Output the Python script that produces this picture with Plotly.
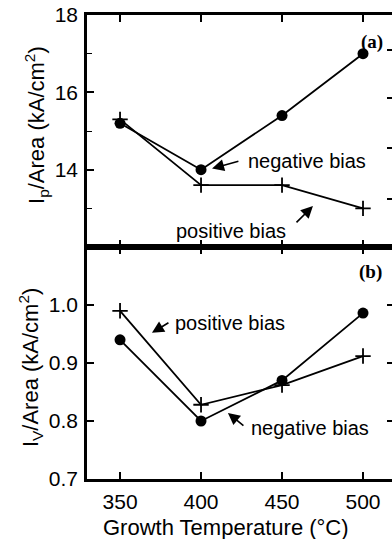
import plotly.graph_objects as go

temps = [350, 400, 450, 500]
peak_negative = [15.2, 14.0, 15.4, 17.0]
peak_positive = [15.3, 13.6, 13.6, 13.0]
valley_negative = [0.94, 0.80, 0.87, 0.986]
valley_positive = [0.99, 0.828, 0.862, 0.912]

x_ticks = [350, 400, 450, 500]
ya_ticks = [14, 16, 18]
ya_minor = [13, 15, 17]
yb_ticks = [0.7, 0.8, 0.9, 1.0]
yb_ticktext = ["0.7", "0.8", "0.9", "1.0"]
ya_right_ticks = [17.1, 15.85, 14.55, 13.25]
yb_right_ticks = [0.8, 0.9, 1.0]

FONT = "Liberation Sans, Arial, sans-serif"
SERIF = "Liberation Serif, Times New Roman, serif"

fig = go.Figure()

line = dict(color="black", width=1.8)
circ = dict(symbol="circle", size=11, color="black")
plus = dict(symbol="cross-thin", size=11, color="black", line=dict(color="black", width=1.8))

fig.add_trace(go.Scatter(x=temps, y=peak_negative, mode="lines+markers", line=line, marker=circ, xaxis="x", yaxis="y"))
fig.add_trace(go.Scatter(x=temps, y=peak_positive, mode="lines+markers", line=line, marker=plus, xaxis="x", yaxis="y"))
fig.add_trace(go.Scatter(x=temps, y=valley_negative, mode="lines+markers", line=line, marker=circ, xaxis="x2", yaxis="y2"))
fig.add_trace(go.Scatter(x=temps, y=valley_positive, mode="lines+markers", line=line, marker=plus, xaxis="x2", yaxis="y2"))
# invisible traces for right-side tick axes
fig.add_trace(go.Scatter(x=[temps[0]], y=[peak_negative[0]], mode="markers", marker=dict(opacity=0), xaxis="x", yaxis="y3", hoverinfo="skip"))
fig.add_trace(go.Scatter(x=[temps[0]], y=[valley_negative[0]], mode="markers", marker=dict(opacity=0), xaxis="x2", yaxis="y4", hoverinfo="skip"))

xr = [329.6, 517.9]
tickfont = dict(family=FONT, size=21, color="black")

ax_common = dict(range=xr, tickvals=x_ticks, ticks="inside", ticklen=7, tickwidth=1.8,
                 showline=True, linewidth=2.5, linecolor="black", showgrid=False, zeroline=False,
                 tickcolor="black", mirror="ticks", tickfont=tickfont, automargin=False)

fig.update_layout(
    width=392, height=539,
    margin=dict(l=87, r=0, t=15, b=60, autoexpand=False),
    paper_bgcolor="white", plot_bgcolor="white",
    showlegend=False,
    font=dict(family=FONT, color="black"),
    xaxis=dict(**ax_common, domain=[0, 1], anchor="y", showticklabels=False),
    xaxis2=dict(**ax_common, domain=[0, 1], anchor="y2", showticklabels=True, ticklabelstandoff=2),
    yaxis=dict(domain=[0.5, 1], anchor="x", range=[12, 18], tickvals=ya_ticks,
               ticks="inside", ticklen=7, tickwidth=1.8, tickcolor="black",
               minor=dict(tickvals=ya_minor, ticks="inside", ticklen=5, tickwidth=1.2, tickcolor="black"),
               showline=True, linewidth=2.5, linecolor="black", showgrid=False, zeroline=False,
               tickfont=tickfont, automargin=False, ticklabelstandoff=2),
    yaxis2=dict(domain=[0, 0.5], anchor="x2", range=[0.7, 1.1], tickvals=yb_ticks,
                ticktext=yb_ticktext,
                ticks="inside", ticklen=7, tickwidth=1.8, tickcolor="black",
                showline=True, linewidth=2.5, linecolor="black", showgrid=False, zeroline=False,
                tickfont=tickfont, automargin=False, ticklabelstandoff=2),
    yaxis3=dict(overlaying="y", side="right", anchor="x", range=[12, 18], tickvals=ya_right_ticks,
                ticks="inside", ticklen=5, tickwidth=1.8, tickcolor="black", showticklabels=False,
                showline=False, showgrid=False, zeroline=False, automargin=False),
    yaxis4=dict(overlaying="y2", side="right", anchor="x2", range=[0.7, 1.1], tickvals=yb_right_ticks,
                ticks="inside", ticklen=5, tickwidth=1.8, tickcolor="black", showticklabels=False,
                showline=False, showgrid=False, zeroline=False, automargin=False),
)

ann = []
# axis titles
ann.append(dict(text="Growth Temperature (°C)", xref="paper", yref="paper", x=0.455, y=0,
                yshift=-48, xanchor="center", yanchor="middle", showarrow=False,
                font=dict(family=FONT, size=22, color="black")))
ann.append(dict(text="I<sub>p</sub>/Area (kA/cm<sup>2</sup>)", xref="paper", yref="paper", x=0, y=0.763,
                xshift=-50, textangle=-90, xanchor="center", yanchor="middle", showarrow=False,
                font=dict(family=FONT, size=22, color="black")))
ann.append(dict(text="I<sub>V</sub>/Area (kA/cm<sup>2</sup>)", xref="paper", yref="paper", x=0, y=0.239,
                xshift=-57, textangle=-90, xanchor="center", yanchor="middle", showarrow=False,
                font=dict(family=FONT, size=22, color="black")))
# panel labels
ann.append(dict(text="<b>(a)</b>", xref="x", yref="y", x=505.5, y=17.3, showarrow=False,
                font=dict(family=SERIF, size=19, color="black")))
ann.append(dict(text="<b>(b)</b>", xref="x2", yref="y2", x=504.5, y=1.057, showarrow=False,
                font=dict(family=SERIF, size=19, color="black")))
# labels
lab = dict(family=FONT, size=20, color="black")
ann.append(dict(text="negative bias", xref="x", yref="y", x=465.4, y=14.23, showarrow=False, font=lab))
ann.append(dict(text="positive bias", xref="x", yref="y", x=418.5, y=12.42, showarrow=False, font=lab))
ann.append(dict(text="positive bias", xref="x2", yref="y2", x=418.0, y=0.969, showarrow=False, font=lab))
ann.append(dict(text="negative bias", xref="x2", yref="y2", x=467.2, y=0.788, showarrow=False, font=lab))
# arrows
arr = dict(text="", showarrow=True, arrowhead=2, arrowsize=1.5, arrowwidth=1.6, arrowcolor="black",
           standoff=0, startstandoff=0)
ann.append(dict(**arr, xref="x", yref="y", axref="x", ayref="y", x=406.8, y=14.03, ax=424.0, ay=14.23))
ann.append(dict(**arr, xref="x", yref="y", axref="x", ayref="y", x=469.1, y=13.06, ax=458.0, ay=12.6))
ann.append(dict(**arr, xref="x2", yref="y2", axref="x2", ayref="y2", x=369.7, y=0.952, ax=380.8, ay=0.971))
ann.append(dict(**arr, xref="x2", yref="y2", axref="x2", ayref="y2", x=416.6, y=0.814, ax=427.1, ay=0.79))

fig.update_layout(annotations=ann)

fig.write_html("out.html", config={"displayModeBar": False},
               post_script="document.body.style.margin='0';document.body.style.overflow='hidden';")
